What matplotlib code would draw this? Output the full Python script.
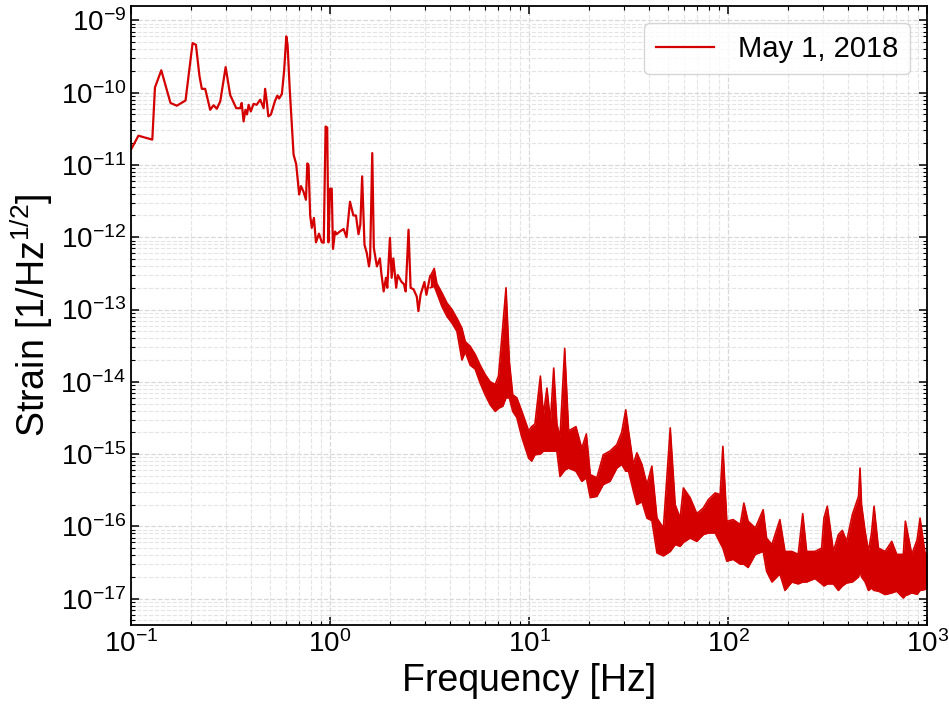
import numpy as np
import matplotlib
matplotlib.use('Agg')
import matplotlib.pyplot as plt
from matplotlib.ticker import FixedLocator, LogLocator

plt.rcParams['font.family'] = ['Liberation Sans', 'DejaVu Sans']
plt.rcParams['mathtext.default'] = 'regular'

# low-frequency part: single thin trace
freq_line = [0.100, 0.109, 0.128, 0.132, 0.142, 0.158, 0.170, 0.188, 0.204, 0.212,
             0.221, 0.227, 0.236, 0.250, 0.260, 0.270, 0.281, 0.299, 0.315, 0.338,
             0.354, 0.360, 0.368, 0.376, 0.383, 0.390, 0.400, 0.413, 0.428, 0.446,
             0.464, 0.472, 0.481, 0.490, 0.505, 0.530, 0.544, 0.555, 0.573, 0.588,
             0.603, 0.612, 0.627, 0.656, 0.676, 0.700, 0.715, 0.735, 0.757, 0.769,
             0.780, 0.795, 0.810, 0.830, 0.850, 0.880, 0.910, 0.930, 0.950, 0.968,
             0.982, 1.000, 1.020, 1.035, 1.060, 1.080, 1.120, 1.170, 1.210, 1.260,
             1.310, 1.350, 1.390, 1.420, 1.450, 1.490, 1.530, 1.570, 1.590, 1.630,
             1.660, 1.720, 1.780, 1.810, 1.860, 1.910, 1.940, 2.000, 2.040, 2.080,
             2.150, 2.190, 2.290, 2.350, 2.400, 2.480, 2.540, 2.630, 2.730, 2.780,
             2.850, 2.980, 3.050, 3.170]
strain_line = [1.63e-11, 2.54e-11, 2.24e-11, 1.18e-10, 2.04e-10, 7.2e-11, 6.6e-11, 7.8e-11, 4.85e-10, 4.6e-10,
               1.68e-10, 1.13e-10, 1.13e-10, 5.8e-11, 6.7e-11, 6.0e-11, 7.6e-11, 2.26e-10, 9.3e-11, 6.1e-11,
               6.1e-11, 7.2e-11, 4.0e-11, 5.8e-11, 5.0e-11, 6.8e-11, 5.5e-11, 7.0e-11, 6.8e-11, 8.0e-11,
               6.1e-11, 1.13e-10, 7.6e-11, 4.7e-11, 5.0e-11, 7.8e-11, 9.1e-11, 8.3e-11, 9.6e-11, 2.0e-10,
               6.0e-10, 4.6e-10, 1.16e-10, 1.39e-11, 1.03e-11, 3.9e-12, 5.1e-12, 4.3e-12, 3.3e-12, 1.05e-11,
               1.0e-11, 2.0e-12, 1.35e-12, 1.85e-12, 8.5e-13, 1.12e-12, 8.5e-13, 8.4e-13, 3.4e-11, 3.3e-11,
               8.5e-13, 4.7e-12, 4.7e-12, 6.9e-13, 1.2e-12, 1.1e-12, 1.2e-12, 1.3e-12, 1.0e-12, 3.1e-12,
               2.0e-12, 2.0e-12, 1.1e-12, 1.5e-12, 6.95e-12, 7.9e-13, 6.05e-13, 3.95e-13, 5.1e-13, 1.46e-11,
               7.1e-13, 3.95e-13, 5.1e-13, 3.2e-13, 1.78e-13, 2.75e-13, 2.0e-13, 9.8e-13, 2.75e-13, 5.1e-13,
               2.0e-13, 3.0e-13, 2.4e-13, 2.25e-13, 1.78e-13, 1.27e-12, 2.0e-13, 1.9e-13, 1.5e-13, 9.5e-14,
               1.6e-13, 2.4e-13, 1.6e-13, 2.75e-13]

# higher frequencies: dense noisy band, upper and lower edge
freq_band = [3.19, 3.34, 3.44, 3.65, 3.87, 4.10, 4.34, 4.60, 4.78, 5.06,
             5.36, 5.68, 6.02, 6.38, 6.76, 7.02, 7.38, 7.66, 7.96, 8.28,
             8.68, 9.20, 9.95, 10.3, 10.7, 11.4, 11.8, 12.3, 12.8, 13.3,
             13.8, 14.3, 15.1, 15.8, 17.2, 18.4, 19.4, 20.3, 21.9, 23.6,
             25.5, 27.6, 29.2, 30.6, 31.6, 33.4, 34.8, 36.9, 39.1, 41.4,
             43.9, 47.3, 51.2, 54.2, 57.4, 59.6, 64.4, 69.6, 75.1, 79.6,
             86.1, 91.2, 94.1, 98.5, 106, 115, 120, 126, 137, 150,
             156, 166, 182, 193, 209, 225, 237, 248, 273, 295,
             303, 315, 338, 358, 375, 394, 421, 452, 460, 468,
             488, 507, 525, 541, 569, 615, 664, 703, 759, 777,
             837, 890, 921, 975, 1000]
band_top = [2.9e-13, 3.7e-13, 2.3e-13, 1.7e-13, 1.23e-13, 1.0e-13, 7.6e-14, 5.5e-14, 3.6e-14, 3.1e-14,
            2.4e-14, 1.7e-14, 1.26e-14, 1.0e-14, 9.2e-15, 1.2e-14, 5.9e-14, 2.0e-13, 1.9e-14, 6.6e-15,
            6.0e-15, 3.9e-15, 2.1e-15, 2.4e-15, 2.6e-15, 1.2e-14, 3.5e-15, 8.2e-15, 2.8e-15, 1.55e-14,
            2.6e-15, 1.7e-15, 2.9e-14, 2.1e-15, 2.4e-15, 1.2e-15, 1.9e-15, 5.2e-16, 4.7e-16, 9.8e-16,
            1.1e-15, 1.35e-15, 2.0e-15, 4.1e-15, 2.1e-15, 7.2e-16, 1.04e-15, 7.2e-16, 3.8e-16, 6.8e-16,
            1.3e-16, 9.5e-17, 2.3e-15, 2.0e-16, 1.3e-16, 3.4e-16, 2.5e-16, 1.5e-16, 1.8e-16, 2.35e-16,
            2.9e-16, 2.75e-16, 1.28e-15, 1.18e-16, 1.24e-16, 1.06e-16, 2.1e-16, 1.18e-16, 9.5e-17, 1.7e-16,
            6.9e-17, 5.6e-17, 1.24e-16, 4.5e-17, 4.5e-17, 4.1e-17, 1.5e-16, 4.5e-17, 4.5e-17, 5.0e-17,
            1.3e-16, 1.9e-16, 4.5e-17, 7.7e-17, 8.8e-17, 6.2e-17, 1.46e-16, 2.6e-16, 6.4e-16, 2.0e-16,
            8.5e-17, 4.5e-17, 8.0e-17, 1.9e-16, 5.0e-17, 4.5e-17, 6.2e-17, 4.1e-17, 4.1e-17, 1.18e-16,
            4.1e-17, 6.5e-17, 1.3e-16, 4.3e-17, 4.3e-17]
band_bottom = [2.0e-13, 2.1e-13, 1.7e-13, 1.1e-13, 8.0e-14, 6.5e-14, 5.0e-14, 2.0e-14, 2.6e-14, 1.7e-14,
               1.5e-14, 9.6e-15, 6.6e-15, 4.8e-15, 3.9e-15, 4.3e-15, 4.6e-15, 6.0e-15, 6.0e-15, 3.9e-15,
               3.2e-15, 1.7e-15, 8.8e-16, 8.0e-16, 9.8e-16, 1.0e-15, 1.1e-15, 1.1e-15, 1.1e-15, 1.1e-15,
               1.1e-15, 4.9e-16, 6.0e-16, 6.4e-16, 5.8e-16, 4.2e-16, 4.7e-16, 2.5e-16, 2.6e-16, 3.8e-16,
               4.2e-16, 6.4e-16, 7.2e-16, 5.8e-16, 5.8e-16, 3.1e-16, 2.0e-16, 2.2e-16, 1.3e-16, 1.2e-16,
               4.3e-17, 3.9e-17, 4.5e-17, 5.6e-17, 5.3e-17, 6.0e-17, 6.9e-17, 6.2e-17, 7.7e-17, 8.1e-17,
               8.1e-17, 5.9e-17, 5.0e-17, 3.3e-17, 3.5e-17, 3.0e-17, 3.0e-17, 2.7e-17, 4.1e-17, 4.5e-17,
               2.4e-17, 1.7e-17, 2.2e-17, 1.3e-17, 1.7e-17, 1.6e-17, 1.7e-17, 1.7e-17, 1.9e-17, 1.6e-17,
               1.5e-17, 1.6e-17, 1.6e-17, 1.3e-17, 1.5e-17, 1.65e-17, 1.7e-17, 2.0e-17, 2.4e-17, 2.0e-17,
               1.7e-17, 1.3e-17, 1.4e-17, 1.3e-17, 1.27e-17, 1.14e-17, 1.2e-17, 1.27e-17, 1.02e-17, 1.1e-17,
               1.2e-17, 1.15e-17, 1.3e-17, 1.34e-17, 1.4e-17]

y_decades = [1e-17, 1e-16, 1e-15, 1e-14, 1e-13, 1e-12, 1e-11, 1e-10, 1e-9]
x_decades = [0.1, 1, 10, 100, 1000]

color = '#d40000'

fig, ax = plt.subplots(figsize=(9.49, 7.04), dpi=100)
fig.subplots_adjust(left=0.138, right=0.977, bottom=0.112, top=0.992)

line, = ax.plot(freq_line + [freq_band[0]], strain_line + [band_top[0]], color=color, lw=1.6,
                label='May 1, 2018')
ax.fill_between(freq_band, band_bottom, band_top, color=color, lw=0)
ax.plot(freq_band, band_top, color=color, lw=1.2)
ax.plot(freq_band, band_bottom, color=color, lw=1.2)

ax.set_xscale('log')
ax.set_yscale('log')
ax.set_xlim(0.1, 1000)
ax.set_ylim(4.3e-18, 1.6e-9)

ax.xaxis.set_major_locator(FixedLocator(x_decades))
ax.yaxis.set_major_locator(FixedLocator(y_decades))
ax.xaxis.set_minor_locator(LogLocator(base=10, subs=np.arange(2, 10), numticks=20))
ax.yaxis.set_minor_locator(LogLocator(base=10, subs=np.arange(2, 10), numticks=30))

ax.grid(which='major', ls='--', color='#d8d8d8', lw=0.9)
ax.grid(which='minor', ls='--', color='#e4e4e4', lw=0.8)
ax.set_axisbelow(True)

ax.tick_params(which='both', direction='in', top=True, right=True, labelsize=20)
ax.tick_params(which='major', length=6, width=1.1)
ax.tick_params(which='minor', length=3, width=0.8)
for s in ax.spines.values():
    s.set_linewidth(1.3)

ax.set_xlabel('Frequency [Hz]', fontsize=27)
ax.set_ylabel('Strain [1/Hz$^{1/2}$]', fontsize=27)
ax.legend(handles=[line], loc='upper right', fontsize=21, borderaxespad=0.6)

fig.savefig('out.png', dpi=100)
